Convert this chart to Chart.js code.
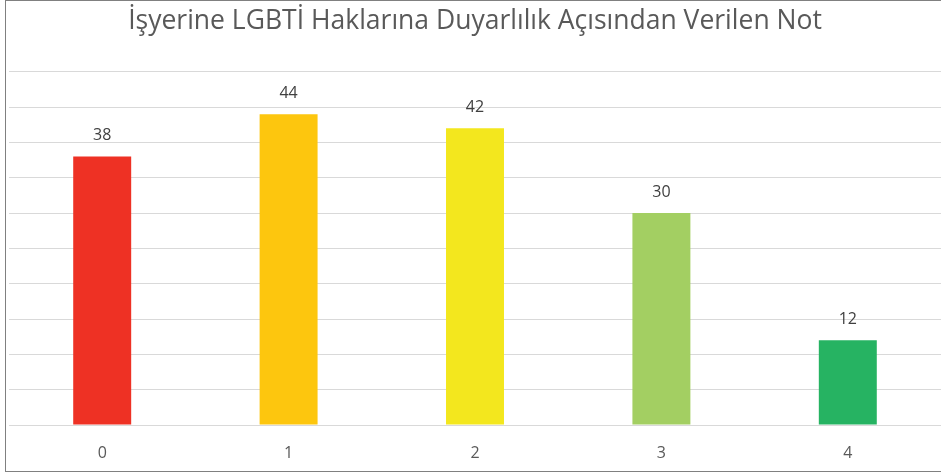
<!DOCTYPE html>
<html><head><meta charset="utf-8">
<script src="https://cdn.jsdelivr.net/npm/chart.js@4"></script>
<style>
html,body{margin:0;padding:0;background:#fff;}
#wrap{position:absolute;left:5px;top:0;width:935px;height:470px;border-left:1px solid #808080;border-top:1px solid #808080;border-bottom:1px solid #808080;}
canvas{display:block;}
</style></head><body>
<div id="wrap"><canvas id="c" width="935" height="470"></canvas></div>
<script>
const titleText = 'İşyerine LGBTİ Haklarına Duyarlılık Açısından Verilen Not';
const categories = ['0','1','2','3','4'];
const values = [38, 44, 42, 30, 12];
const barColors = ['#EE3124','#FDC60E','#F3E71E','#A3CF62','#26B362'];

const labelPlugin = {
  id:'barLabels',
  afterDatasetsDraw(chart){
    const ctx = chart.ctx;
    const meta = chart.getDatasetMeta(0);
    ctx.save();
    ctx.font = '16px "Open Sans", sans-serif';
    ctx.fillStyle = '#404040';
    ctx.textAlign = 'center';
    ctx.textBaseline = 'middle';
    meta.data.forEach((bar,i)=>{
      ctx.fillText(String(values[i]), bar.x, bar.y - 21);
    });
    ctx.restore();
  }
};

Chart.defaults.font.family = '"Open Sans", sans-serif';
new Chart(document.getElementById('c'), {
  type:'bar',
  data:{labels:categories, datasets:[{data:values, backgroundColor:barColors, barPercentage:0.311, categoryPercentage:1}]},
  options:{
    responsive:false, animation:false,
    layout:{padding:{left:3,right:0,top:0,bottom:0}},
    plugins:{
      legend:{display:false}, tooltip:{enabled:false},
      title:{display:true, text:titleText, color:'#595959', font:{size:26.5, weight:'normal', lineHeight:1.2}, padding:{top:5,bottom:34}}
    },
    scales:{
      x:{grid:{display:false, drawTicks:false}, border:{display:true,color:'#d9d9d9',width:1},
         ticks:{color:'#595959', font:{size:16}, padding:19},
         afterFit(scale){ scale.height = 46; }},
      y:{min:0,max:50, ticks:{display:false, stepSize:5}, border:{display:false},
         grid:{color:'#d9d9d9', lineWidth:1, drawTicks:false}}
    }
  },
  plugins:[labelPlugin]
});
</script></body></html>
